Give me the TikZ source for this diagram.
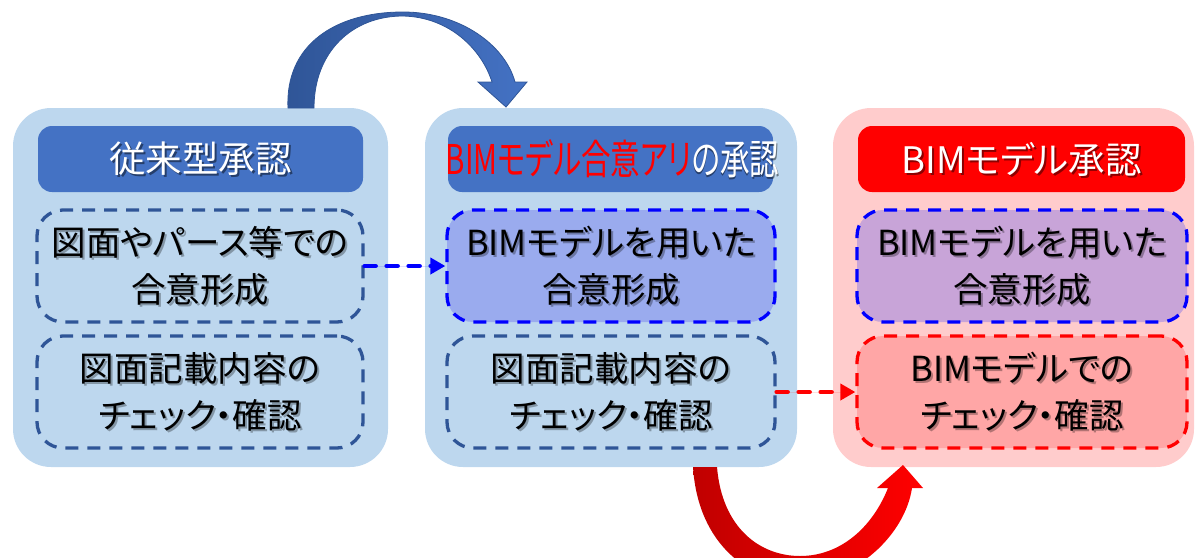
\documentclass[tikz,border=0pt]{standalone}
\usepackage{fontspec}
\setmainfont[RawFeature=+palt]{Noto Sans CJK JP}
\usepackage{graphicx}
\usetikzlibrary{arrows.meta,calc}
\definecolor{panelblue}{HTML}{BDD7EE}
\definecolor{panelpink}{HTML}{FFCCCC}
\definecolor{headblue}{HTML}{4472C4}
\definecolor{darkblue}{HTML}{2F5597}
\definecolor{pureblue}{HTML}{0000FF}
\definecolor{purered}{HTML}{FF0000}
\definecolor{darkred}{HTML}{C00000}
\definecolor{periwinkle}{HTML}{9AABEE}
\definecolor{lavender}{HTML}{C8A4D8}
\definecolor{salmon}{HTML}{FFA6A6}
\begin{document}
\begin{tikzpicture}[x=1pt,y=-1pt,
  panel/.style={rounded corners=38pt, minimum height=359pt, inner sep=0pt},
  head/.style={rounded corners=14pt, minimum height=66pt, inner sep=0pt},
  dbox/.style={rounded corners=26pt, minimum height=112pt, line width=3.3pt, dash pattern=on 13pt off 9pt, inner sep=0pt},
  body/.style={font=\fontsize{34.5}{47}\selectfont, align=center, inner sep=0pt},
  htxt/.style={font=\fontsize{36.5}{40}\selectfont, inner sep=0pt},
  bshadow/.style={text=black, opacity=0.3},
  wshadow/.style={text=black, opacity=0.45},
  conn/.style={line width=4.5pt, line cap=round, dash pattern=on 11pt off 11pt, -{Triangle[length=15pt,width=16pt,line cap=butt]}},
]
\useasboundingbox (0,0) rectangle (1198,557);
\clip (0,0) rectangle (1198,557);

% panels
\node[panel, fill=panelblue, minimum width=375pt] (pL) at (200.5,287.5) {};
\node[panel, fill=panelblue, minimum width=372pt] (pM) at (611,287.5) {};
\node[panel, fill=panelpink, minimum width=361pt] (pR) at (1013.5,287.5) {};

% headers
\node[head, fill=headblue, minimum width=325pt] (hL) at (200.5,159) {};
\node[head, fill=headblue, minimum width=325pt] (hM) at (610.5,159) {};
\node[head, fill=purered, minimum width=327pt] (hR) at (1021.5,159) {};

% dashed boxes
\node[dbox, draw=darkblue, minimum width=326pt] (aL) at (200,266) {};
\node[dbox, draw=darkblue, minimum width=326pt] (bL) at (200,392) {};
\node[dbox, draw=pureblue, fill=periwinkle, minimum width=328pt] (aM) at (611,266) {};
\node[dbox, draw=darkblue, minimum width=328pt] (bM) at (611,392) {};
\node[dbox, draw=pureblue, fill=lavender, minimum width=330pt] (aR) at (1022,266) {};
\node[dbox, draw=purered, fill=salmon, minimum width=330pt] (bR) at (1022,392) {};

% header texts
\node[htxt, wshadow] at ($(hL)+(2,2)$) {従来型承認};
\node[htxt, text=white] (thL) at (hL) {従来型承認};
\node[htxt, wshadow] at ($(hM)+(2.5,2)$) {\scalebox{0.72}[1]{\fontsize{41}{44}\selectfont\phantom{BIMモデル合意アリ}の承認}};
\node[htxt] (thM) at ($(hM)+(2,0)$) {\scalebox{0.72}[1]{\fontsize{41}{44}\selectfont\textcolor{purered}{BIMモデル合意アリ}\textcolor{white}{の承認}}};
\node[htxt, wshadow] at ($(hR)+(2,2)$) {BIMモデル承認};
\node[htxt, text=white] (thR) at (hR) {BIMモデル承認};

% body texts
\node[body, bshadow] at ($(aL)+(2,2)$) {図面やパース等での\\合意形成};
\node[body] (taL) at (aL) {図面やパース等での\\合意形成};
\node[body, bshadow] at ($(bL)+(2,2)$) {図面記載内容の\\チェック・確認};
\node[body] (tbL) at (bL) {図面記載内容の\\チェック・確認};
\node[body, bshadow] at ($(aM)+(2,2)$) {BIMモデルを用いた\\合意形成};
\node[body] (taM) at (aM) {BIMモデルを用いた\\合意形成};
\node[body, bshadow] at ($(bM)+(2,2)$) {図面記載内容の\\チェック・確認};
\node[body] (tbM) at (bM) {図面記載内容の\\チェック・確認};
\node[body, bshadow] at ($(aR)+(2,2)$) {BIMモデルを用いた\\合意形成};
\node[body] (taR) at (aR) {BIMモデルを用いた\\合意形成};
\node[body, bshadow] at ($(bR)+(2,2)$) {BIMモデルでの\\チェック・確認};
\node[body] (tbR) at (bR) {BIMモデルでの\\チェック・確認};

% dashed connectors
\draw[conn, draw=pureblue, fill=pureblue] (aL.east) -- (aM.west);
\draw[conn, draw=purered, fill=purered] (bM.east) -- (bR.west);

% top curved arrow
\coordinate (tA) at (506,107);
\shade[left color=darkblue, right color=headblue, draw=darkblue, line width=0.8pt]
  (288,108) .. controls (285,45) and (335,12) .. (403,12)
  .. controls (460,12) and (505,45) .. (515,82)
  -- (527,82) -- (tA) -- (478,82) -- (492,82)
  .. controls (482,50) and (450,17) .. (403,16)
  .. controls (352,16) and (314,52) .. (314,108) -- cycle;

% bottom curved arrow
\coordinate (bA) at (903,465);
\shade[left color=darkred, right color=purered]
  (693,467) .. controls (698,545) and (750,582) .. (800,582)
  .. controls (855,582) and (905,535) .. (912,488)
  -- (923,488) -- (bA) -- (877,488) -- (888,488)
  .. controls (872,528) and (840,556) .. (800,556)
  .. controls (760,556) and (722,528) .. (717,467) -- cycle;
\end{tikzpicture}
\end{document}
